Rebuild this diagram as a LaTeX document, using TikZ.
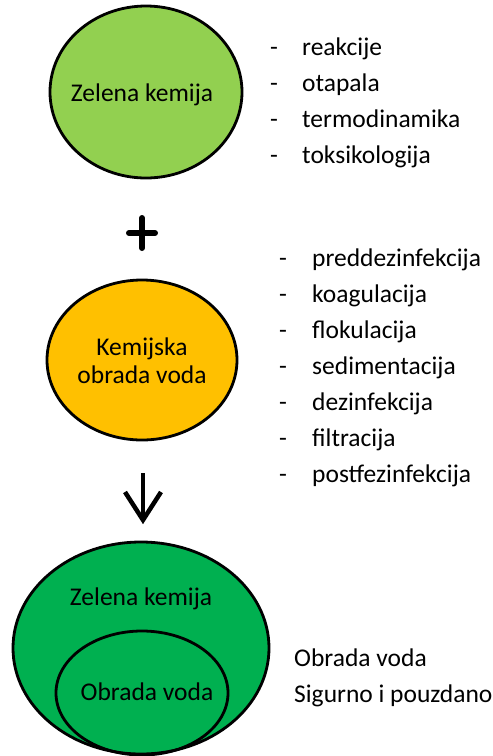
\documentclass[tikz,border=0pt]{standalone}
\usepackage{fontspec}
\setmainfont{Carlito}
\begin{document}
\begin{tikzpicture}[x=1pt,y=-1pt,
  txt/.style={font=\fontsize{25.5}{30}\selectfont, inner sep=0pt},
  itm/.style={txt, anchor=base west},
  dsh/.style={txt, anchor=base west},
  ell/.style={draw=black, line width=2.8pt}]
\useasboundingbox (0,0) rectangle (493,756);
% top ellipse
\draw[ell, fill={rgb,255:red,146;green,208;blue,80}] (146,92) ellipse [x radius=96, y radius=86];
\node[txt] (zk) at (142,95) {Zelena kemija};
% list 1
\foreach \t [count=\i] in {reakcije,otapala,termodinamika,toksikologija}{
  \node[dsh] (d1\i) at (270,{55+36*(\i-1)}) {-};
  \node[itm] (l1\i) at (302,{55+36*(\i-1)}) {\t};
}
% plus
\node (plus) at (142,233) {};
\draw[line width=6pt, line cap=round] (129,233) -- (155,233) (142,218) -- (142,248);
% second ellipse
\draw[ell, fill={rgb,255:red,255;green,192;blue,0}] (142,360) ellipse [x radius=95, y radius=80];
\node[txt, align=center] (kov) at (142,361) {Kemijska\\[-2pt]obrada voda};
% list 2
\foreach \t [count=\i] in {preddezinfekcija,koagulacija,flokulacija,sedimentacija,dezinfekcija,filtracija,postfezinfekcija}{
  \node[dsh] (d2\i) at (279,{266+36*(\i-1)}) {-};
  \node[itm] (l2\i) at (312,{266+36*(\i-1)}) {\t};
}
% arrow
\coordinate (a1) at (143,473);
\coordinate (a2) at (143,518);
\draw[line width=4.5pt] (a1) -- (a2);
\draw[line width=4.5pt, line join=miter] (125,492) -- (143,520) -- (161,492);
% bottom ellipses
\draw[ell, fill={rgb,255:red,0;green,176;blue,80}] (141,648) ellipse [x radius=128, y radius=106];
\draw[ell] (142,693) ellipse [x radius=86, y radius=62];
\node[txt] (zk2) at (141,599) {Zelena kemija};
\node[txt] (ov) at (147,692) {Obrada voda};
\node[txt, anchor=base west] (r1) at (294,666) {Obrada voda};
\node[txt, anchor=base west] (r2) at (294,702) {Sigurno i pouzdano};
\end{tikzpicture}
\end{document}
